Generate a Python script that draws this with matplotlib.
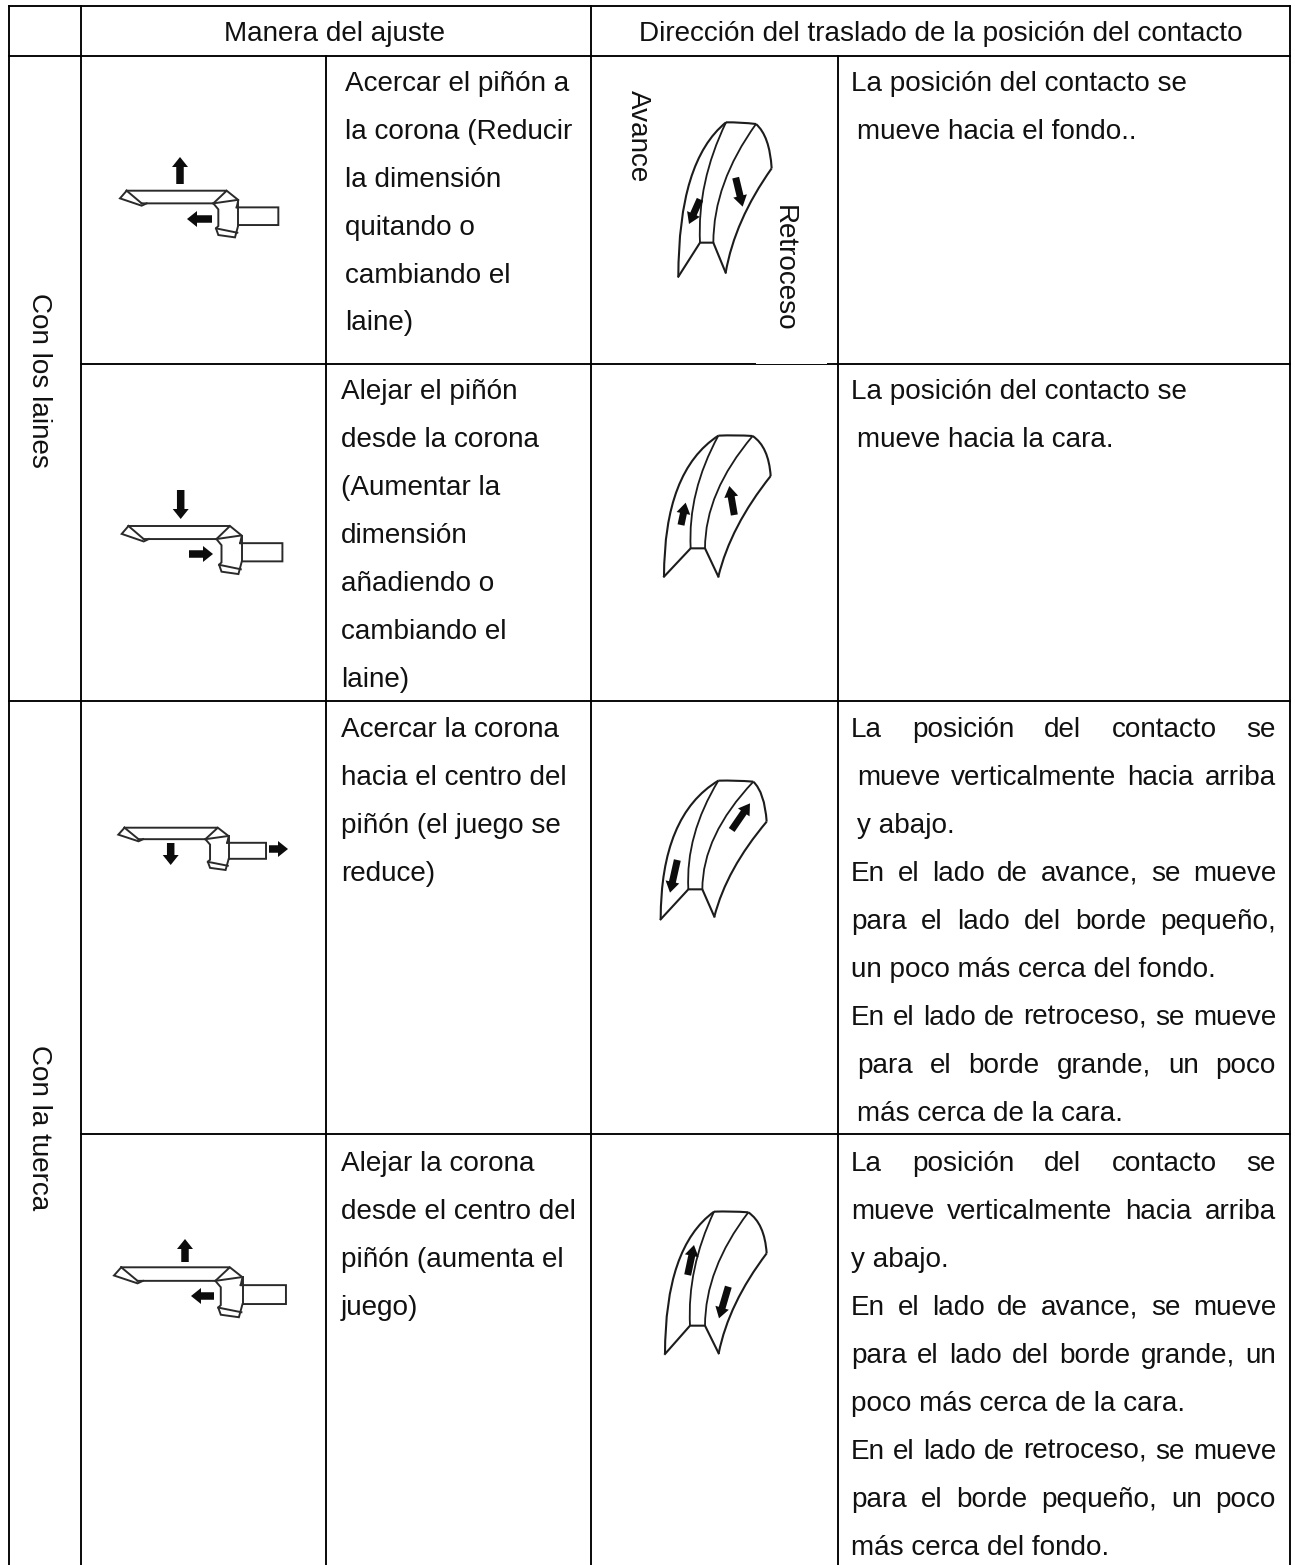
import matplotlib
matplotlib.use('Agg')
import matplotlib.pyplot as plt
from matplotlib.path import Path
from matplotlib.patches import PathPatch, Polygon, Rectangle
import numpy as np

plt.rcParams['font.family'] = ['Liberation Sans', 'DejaVu Sans']

WIDTH, HEIGHT = 1295, 1565
FONT_SIZE = 20.1
INK = '#111111'

# table text
header_adjust = 'Manera del ajuste'
header_direction = 'Dirección del traslado de la posición del contacto'
group_labels = ['Con los laines', 'Con la tuerca']
axis_labels = ['Avance', 'Retroceso']

adjust_texts = [
    ['Acercar el piñón a', 'la corona (Reducir', 'la dimensión',
     'quitando o', 'cambiando el', 'laine)'],
    ['Alejar el piñón', 'desde la corona', '(Aumentar la', 'dimensión',
     'añadiendo o', 'cambiando el', 'laine)'],
    ['Acercar la corona', 'hacia el centro del', 'piñón (el juego se',
     'reduce)'],
    ['Alejar la corona', 'desde el centro del', 'piñón (aumenta el',
     'juego)'],
]

# each line: text, indented, justified
direction_texts = [
    [('La posición del contacto se', False, False),
     ('mueve hacia el fondo..', True, False)],
    [('La posición del contacto se', False, False),
     ('mueve hacia la cara.', True, False)],
    [('La posición del contacto se', False, True),
     ('mueve verticalmente hacia arriba', True, True),
     ('y abajo.', True, False),
     ('En el lado de avance, se mueve', False, True),
     ('para el lado del borde pequeño,', False, True),
     ('un poco más cerca del fondo.', False, False),
     ('En el lado de retroceso, se mueve', False, True),
     ('para el borde grande, un poco', True, True),
     ('más cerca de la cara.', True, False)],
    [('La posición del contacto se', False, True),
     ('mueve verticalmente hacia arriba', False, True),
     ('y abajo.', False, False),
     ('En el lado de avance, se mueve', False, True),
     ('para el lado del borde grande, un', False, True),
     ('poco más cerca de la cara.', False, False),
     ('En el lado de retroceso, se mueve', False, True),
     ('para el borde pequeño, un poco', False, True),
     ('más cerca del fondo.', False, False)],
]

# table grid, in picture pixels
col_edges = [8.5, 81, 326, 591, 838, 1290]
row_edges = [6, 56, 364, 701, 1134]
first_line_y = [83, 391, 729, 1163]
adjust_x = [345, 341, 341, 341]
line_step = [47.9, 48.0, 48.0, 48.0]

# pinion and crown sketch, measured on one crop (3x)
crown_lines = [
    [(110, 212), (410, 212), (370, 250), (155, 250)],
    [(110, 212), (90, 235), (155, 257), (170, 250)],
    [(110, 212), (155, 250)],
    [(410, 212), (445, 240), (440, 262)],
    [(370, 250), (440, 240)],
]
pinion_lines = [
    [(370, 250), (385, 268), (385, 318), (378, 325), (385, 345), (435, 352),
     (445, 315), (565, 315), (565, 262), (440, 262)],
    [(378, 325), (442, 338)],
    [(445, 240), (445, 315)],
]
# tip x, top y, x scale, y scale
pinion_places = [
    (120, 190.7, 1.0, 1.0),
    (121.7, 526, 1.015, 1.03),
    (118.3, 827.7, 0.933, 0.906),
    (114, 1267.3, 1.086, 1.07),
]
# start and end of the movement arrows next to each sketch
pinion_arrows = [
    [((180, 184), (180, 157)), ((212, 219), (187, 219))],
    [((180.7, 490), (180.7, 519)), ((189, 554), (213, 554))],
    [((170.7, 843), (170.7, 865)), ((269, 849), (288, 849))],
    [((185, 1262), (185, 1239)), ((214, 1296), (191, 1296))],
]

# tooth sketches: crop origin, then key points in crop pixels (3x)
tooth_origins = [(590, 70), (620, 430), (620, 760), (620, 1190)]
tooth_points = [
    [(408, 157), (498, 162), (545, 295), (407, 608), (370, 518), (330, 518), (265, 620)],
    [(295, 17), (398, 18), (452, 138), (295, 440), (255, 355), (212, 355), (132, 440)],
    [(295, 62), (400, 65), (440, 185), (283, 470), (247, 388), (205, 388), (122, 478)],
    [(282, 65), (385, 67), (440, 190), (296, 490), (255, 407), (210, 407), (135, 492)],
]
tooth_arrows = [
    [((330, 388), (297, 462)), ((437, 323), (458, 410))],
    [((183, 285), (197, 218)), ((343, 255), (328, 168))],
    [((172, 300), (150, 398)), ((335, 210), (390, 130))],
    [((203, 255), (222, 165)), ((325, 290), (297, 385))],
]


def draw_arrow(ax, start, end, shaft=7.5, head=16, head_len=10):
    '''Draw one solid block arrow from start to end'''
    start, end = np.array(start, float), np.array(end, float)
    along = (end - start) / np.linalg.norm(end - start)
    side = np.array([-along[1], along[0]])
    neck = end - along * head_len
    points = [start + side * shaft / 2, neck + side * shaft / 2,
              neck + side * head / 2, end, neck - side * head / 2,
              neck - side * shaft / 2, start - side * shaft / 2]
    ax.add_patch(Polygon(points, closed=True, fc='#0c0c0c', ec='none', zorder=4))


def draw_pinion(ax, place, arrows):
    '''Draw a crown and pinion sketch at the given place'''
    tip_x, top_y, sx, sy = place
    for line in crown_lines + pinion_lines:
        pts = np.array(line, float)
        xs = tip_x + (pts[:, 0] - 90) / 3 * sx
        ys = top_y + (pts[:, 1] - 212) / 3 * sy
        ax.plot(xs, ys, color='#2a2a2a', lw=1.4, solid_joinstyle='miter', zorder=3)
    for start, end in arrows:
        draw_arrow(ax, start, end)


def curve(ax, p0, ctrl, p1, lw=1.5):
    '''Draw one quadratic curve'''
    path = Path([p0, ctrl, p1], [Path.MOVETO, Path.CURVE3, Path.CURVE3])
    ax.add_patch(PathPatch(path, fc='none', ec='#1c1c1c', lw=lw, zorder=3))


def draw_tooth(ax, origin, points, arrows):
    '''Draw a gear tooth from its key points, with its two arrows'''
    def to_px(p):
        return np.array([origin[0] + p[0] / 3, origin[1] + p[1] / 3])

    top_l, top_r, right, bottom, notch_r, notch_l, tip = [to_px(p) for p in points]
    h = tip[1] - top_l[1]

    # outer edges
    curve(ax, top_l, (top_l + top_r) / 2 + np.array([0, -1]), top_r)
    curve(ax, tip, (tip[0], top_l[1] + 0.25 * h), top_l)
    curve(ax, top_r, (right[0] - 2, top_r[1] + 0.27 * (right[1] - top_r[1])), right)
    curve(ax, right, (right + bottom) / 2 + np.array([-14, 0]), bottom)

    # inner lines of the tooth
    curve(ax, top_l, (notch_l[0] - 3, (top_l[1] + notch_l[1]) / 2), notch_l, lw=1.3)
    curve(ax, top_r, (notch_r[0], (top_r[1] + notch_r[1]) / 2), notch_r, lw=1.3)

    # bottom notch
    ax.plot(*np.array([tip, notch_l, notch_r, bottom]).T, color='#1c1c1c',
            lw=1.5, zorder=3)

    for start, end in arrows:
        draw_arrow(ax, to_px(start), to_px(end), shaft=7, head=14, head_len=11)


def word_width(ax, renderer, word):
    '''Width of a word in pixels'''
    t = ax.text(0, 0, word, fontsize=FONT_SIZE)
    w = t.get_window_extent(renderer).width
    t.remove()
    return w


def draw_line(ax, renderer, text, x0, x1, baseline, justified):
    '''Write one line, spreading the words up to x1 if justified'''
    if not justified:
        ax.text(x0, baseline, text, fontsize=FONT_SIZE, color=INK, va='baseline')
        return
    words = text.split()
    widths = [word_width(ax, renderer, w) for w in words]
    gap = (x1 - x0 - sum(widths)) / (len(words) - 1)
    x = x0
    for word, w in zip(words, widths):
        ax.text(x, baseline, word, fontsize=FONT_SIZE, color=INK, va='baseline')
        x += w + gap


def main():
    fig = plt.figure(figsize=(WIDTH / 100, HEIGHT / 100), dpi=100)
    ax = fig.add_axes([0, 0, 1, 1])
    ax.set_xlim(0, WIDTH)
    ax.set_ylim(HEIGHT, 0)
    ax.axis('off')
    renderer = fig.canvas.get_renderer()

    # grid
    grid = dict(color='black', lw=1.35, solid_capstyle='projecting', zorder=2)
    ax.plot([col_edges[0], col_edges[5]], [row_edges[0]] * 2, **grid)
    ax.plot([col_edges[0], col_edges[5]], [row_edges[1]] * 2, **grid)
    ax.plot([col_edges[1], col_edges[5]], [row_edges[2]] * 2, **grid)
    ax.plot([col_edges[0], col_edges[5]], [row_edges[3]] * 2, **grid)
    ax.plot([col_edges[1], col_edges[5]], [row_edges[4]] * 2, **grid)
    for i in [0, 1, 3, 5]:
        ax.plot([col_edges[i]] * 2, [row_edges[0], HEIGHT], **grid)
    for i in [2, 4]:
        ax.plot([col_edges[i]] * 2, [row_edges[1], HEIGHT], **grid)

    # the line under the first tooth is partly scraped off in the scan
    ax.add_patch(Rectangle((756, row_edges[2] - 1.5), 71, 1.5, fc='white',
                           ec='none', zorder=3))

    # headers
    ax.text(335, 41, header_adjust, ha='center', va='baseline',
            fontsize=FONT_SIZE, color=INK)
    ax.text(940.5, 41, header_direction, ha='center', va='baseline',
            fontsize=FONT_SIZE, color=INK)

    # rotated labels
    for label, y in zip(group_labels, [380, 1128]):
        ax.text(39, y, label, rotation=270, ha='center', va='center',
                fontsize=FONT_SIZE, color=INK)
    ax.text(638, 136, axis_labels[0], rotation=270, ha='center', va='center',
            fontsize=FONT_SIZE, color=INK)
    ax.text(784, 268, axis_labels[1], rotation=270, ha='center', va='center',
            fontsize=FONT_SIZE, color=INK)

    # text columns
    for r in range(4):
        for i, line in enumerate(adjust_texts[r]):
            ax.text(adjust_x[r], first_line_y[r] + 8 + i * line_step[r], line,
                    fontsize=FONT_SIZE, color=INK, va='baseline')
        for i, (line, indented, justified) in enumerate(direction_texts[r]):
            x0 = 857 if indented else 851
            draw_line(ax, renderer, line, x0, 1276,
                      first_line_y[r] + 8 + i * line_step[r], justified)

    # sketches
    for r in range(4):
        draw_pinion(ax, pinion_places[r], pinion_arrows[r])
        draw_tooth(ax, tooth_origins[r], tooth_points[r], tooth_arrows[r])

    fig.savefig('out.png', dpi=100, facecolor='white')


if __name__ == '__main__':
    main()
